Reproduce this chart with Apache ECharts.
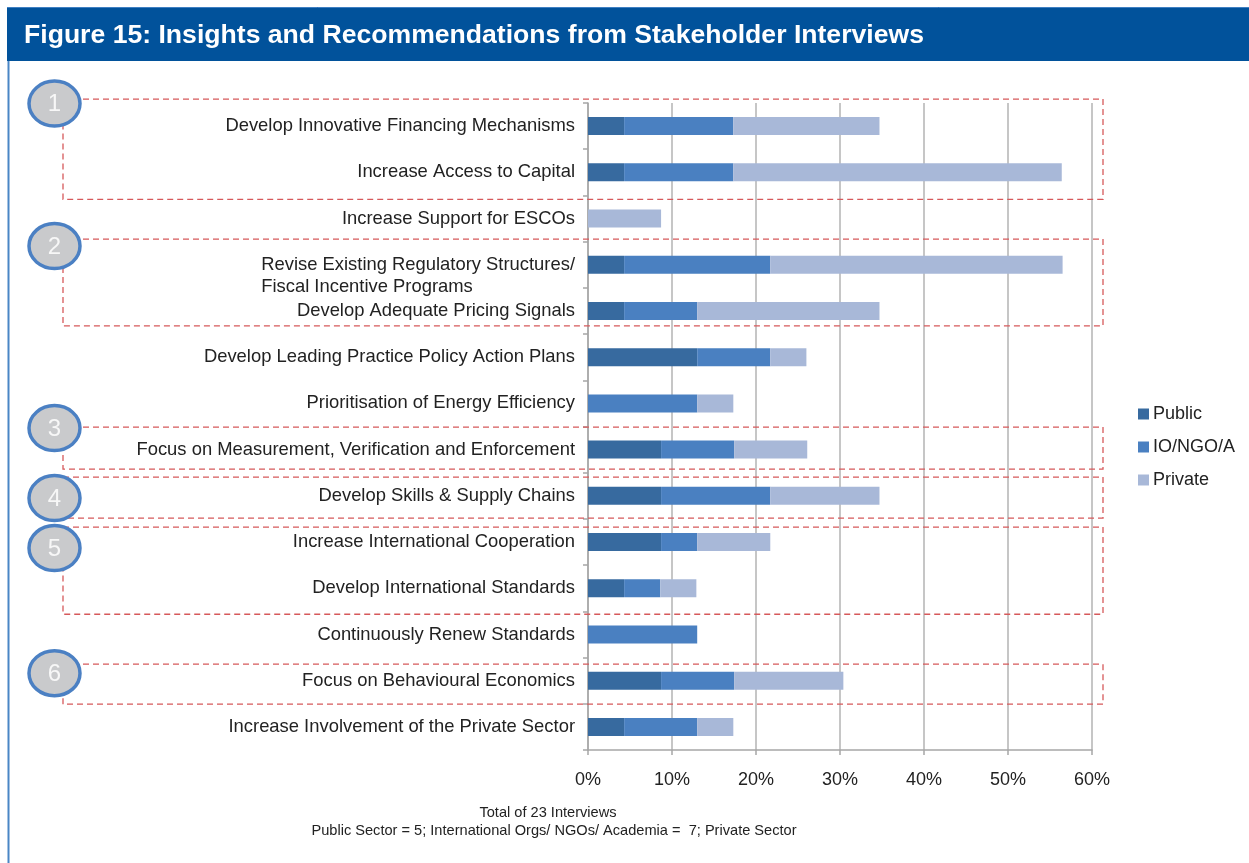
<!doctype html>
<html><head><meta charset="utf-8" />
<style>
  html,body,#app{margin:0;padding:0;width:1249px;height:863px;background:#ffffff}
</style>
<script src="https://cdn.jsdelivr.net/npm/echarts@6/dist/echarts.min.js"></script>
</head><body><div id="app"></div>
<script>
// values, % of 23 interviews
const categories = [
  'Develop Innovative Financing Mechanisms',
  'Increase Access to Capital',
  'Increase Support for ESCOs',
  'Revise Existing Regulatory Structures/\nFiscal Incentive Programs',
  'Develop Adequate Pricing Signals',
  'Develop Leading Practice Policy Action Plans',
  'Prioritisation of Energy Efficiency',
  'Focus on Measurement, Verification and Enforcement',
  'Develop Skills & Supply Chains',
  'Increase International Cooperation',
  'Develop International Standards',
  'Continuously Renew Standards',
  'Focus on Behavioural Economics',
  'Increase Involvement of the Private Sector'
];
const publicVals  = [4.3, 4.3, 0, 4.3, 4.3, 13.0, 0, 8.7, 8.7, 8.7, 4.3, 0, 8.7, 4.3];
const ioNgoVals   = [13.0, 13.0, 0, 17.4, 8.7, 8.7, 13.0, 8.7, 13.0, 4.3, 4.3, 13.0, 8.7, 8.7];
const privateVals = [17.4, 39.1, 8.7, 34.8, 21.7, 4.3, 4.3, 8.7, 13.0, 8.7, 4.3, 0, 13.0, 4.3];
const xTicks = [0, 10, 20, 30, 40, 50, 60];
const seriesNames = ['Public', 'IO/NGO/A', 'Private'];
// numbered groups: first and last category row of each
const groups = [
  { num: '1', from: 0, to: 1 },
  { num: '2', from: 3, to: 4 },
  { num: '3', from: 7, to: 7 },
  { num: '4', from: 8, to: 8 },
  { num: '5', from: 9, to: 10 },
  { num: '6', from: 12, to: 12 }
];
const titleText = 'Figure 15: Insights and Recommendations from Stakeholder Interviews';
const noteLines = ['Total of 23 Interviews', 'Public Sector = 5; International Orgs/ NGOs/ Academia =  7; Private Sector'];

// box edge offsets from row centres, and circle offsets from box top (layout only)
const boxPad = [[27, 27], [25.7, 15], [22.5, 19.5], [18.7, 22.3], [15, 26], [16.5, 23.5]];
const circleDy = [4.5, 7, 1, 21, 21, 9];

const colors = ['#376a9f', '#4a80c1', '#a8b8d8'];
const FONT = "'Liberation Sans', Arial, Helvetica, sans-serif";

const chart = echarts.init(document.getElementById('app'));
const option = {
  backgroundColor: '#ffffff',
  animation: false,
  textStyle: { fontFamily: FONT },
  grid: { left: 588, right: 157, top: 103, bottom: 113, containLabel: false },
  legend: {
    data: seriesNames, orient: 'vertical', left: 1133, top: 400,
    itemWidth: 11, itemHeight: 11, itemGap: 15, icon: 'rect',
    textStyle: { fontSize: 18, color: '#222', fontFamily: FONT, padding: [0, 0, 0, -1] }
  },
  xAxis: {
    type: 'value', min: xTicks[0], max: xTicks[xTicks.length - 1], interval: xTicks[1] - xTicks[0],
    axisLabel: { formatter: '{value}%', fontSize: 18, color: '#222', margin: 21 },
    axisLine: { show: true, lineStyle: { color: '#a6a6a6', width: 1.5 } },
    axisTick: { show: true, length: 5, lineStyle: { color: '#a6a6a6', width: 1.5 } },
    splitLine: { show: true, lineStyle: { color: '#b3b3b3', width: 1.5 } }
  },
  yAxis: {
    type: 'category', data: categories, inverse: true,
    axisLine: { show: true, lineStyle: { color: '#a6a6a6', width: 1.5 } },
    axisTick: { show: true, length: 5, lineStyle: { color: '#a6a6a6', width: 1.5 } },
    axisLabel: {
      fontSize: 18.4, color: '#222', margin: 13, lineHeight: 22,
      formatter: function (v) {
        if (v.indexOf('\n') < 0) return v;
        const parts = v.split('\n');
        return '{e|}\n{l|' + parts[0] + '}\n{l|' + parts[1] + '}';
      },
      rich: {
        l: { fontSize: 18.4, color: '#222', align: 'left', lineHeight: 22, fontFamily: FONT },
        e: { fontSize: 18.4, lineHeight: 22 }
      }
    }
  },
  series: seriesNames.map(function (name, i) {
    return {
      name: name, type: 'bar', stack: 'all', barWidth: 18,
      data: [publicVals, ioNgoVals, privateVals][i],
      itemStyle: { color: colors[i] }
    };
  })
};
chart.setOption(option);

// annotations placed from the axis scale
const g = [
  { type: 'rect', shape: { x: 7, y: 7, width: 1242, height: 54 }, style: { fill: '#01529b' }, z: 10 },
  { type: 'line', shape: { x1: 7, y1: 7.5, x2: 1249, y2: 7.5 }, style: { stroke: '#3f7fc2', lineWidth: 1 }, z: 11 },
  { type: 'line', shape: { x1: 8.5, y1: 61, x2: 8.5, y2: 863 }, style: { stroke: '#4a86c5', lineWidth: 2 }, z: 10 },
  { type: 'text', left: 24, top: 22, z: 12,
    style: { text: titleText, fill: '#ffffff', font: 'bold 26.6px ' + FONT } }
];
noteLines.forEach(function (t, i) {
  g.push({ type: 'text', z: 12, x: [548, 554][i], y: [813, 831][i],
    style: { text: t, fill: '#222', font: '14.6px ' + FONT, align: 'center', verticalAlign: 'middle' } });
});
groups.forEach(function (gr, i) {
  const yTop = chart.convertToPixel({ yAxisIndex: 0 }, categories[gr.from]) - boxPad[i][0];
  const yBot = chart.convertToPixel({ yAxisIndex: 0 }, categories[gr.to]) + boxPad[i][1];
  g.push({ type: 'rect', z: 20, shape: { x: 63, y: yTop, width: 1103 - 63, height: yBot - yTop },
    style: { fill: 'none', stroke: '#d6595b', lineWidth: 1.3, lineDash: [6, 4] } });
  g.push({ type: 'ellipse', z: 21, shape: { cx: 54.5, cy: yTop + circleDy[i], rx: 25.5, ry: 22.5 },
    style: { fill: '#c9cacc', stroke: '#4b80c3', lineWidth: 3.5 } });
  g.push({ type: 'text', z: 22, x: 54.5, y: yTop + circleDy[i] + 1,
    style: { text: gr.num, fill: '#f7f7f7', font: '24px ' + FONT, align: 'center', verticalAlign: 'middle' } });
});
chart.setOption({ graphic: g });
</script></body></html>
